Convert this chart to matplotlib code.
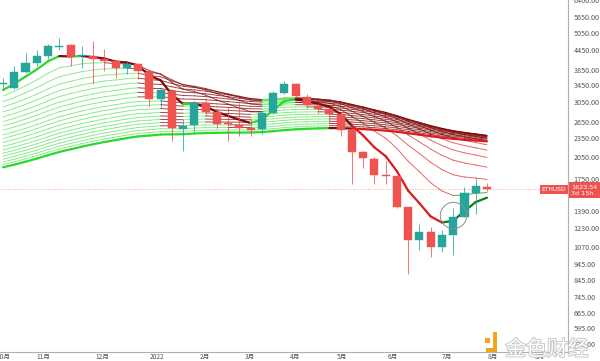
import numpy as np
import matplotlib.pyplot as plt
from matplotlib.collections import LineCollection
from matplotlib.patches import Rectangle
from matplotlib.ticker import NullLocator
from matplotlib import patheffects

plt.rcParams['font.family'] = ['Noto Sans CJK SC', 'DejaVu Sans']

# weekly ETHUSD candles, week of 2021-10-04 .. week of 2022-08-01
opens = [3481, 3382, 3795, 4050, 4259, 4560, 4610, 4259, 4259, 4168,
         4108, 3906, 4021, 3795, 3125, 3310, 2517, 2590, 3036, 2845,
         2625, 2590, 2535, 2517, 2825, 3262, 3481, 3170, 2971, 2908,
         2805, 2499, 2133, 2027, 1806, 1793, 1424, 1122, 1189, 1066,
         1163, 1334, 1587, 1657]
highs = [3635, 3963, 4352, 4447, 4644, 4853, 4640, 4577, 4746, 4479,
         4130, 4108, 4050, 3830, 3382, 3358, 2705, 3080, 3147, 2908,
         2950, 3036, 2725, 2888, 3310, 3557, 3504, 3240, 3036, 2950,
         2845, 2517, 2148, 2057, 1998, 1806, 1434, 1268, 1232, 1206,
         1414, 1657, 1768, 1705]
lows = [3358, 3358, 3760, 3963, 4168, 4447, 3963, 3906, 3481, 3823,
        3635, 3741, 3609, 2971, 2929, 2308, 2148, 2481, 2765, 2535,
        2308, 2393, 2393, 2428, 2805, 3240, 3147, 2929, 2825, 2620,
        2393, 1693, 1900, 1693, 1693, 1414, 878, 1043, 992, 1028,
        1006, 1325, 1354, 1610]
closes = [3504, 3795, 4050, 4259, 4577, 4580, 4229, 4290, 4168, 4108,
          3906, 4021, 3823, 3125, 3334, 2535, 2572, 3036, 2845, 2609,
          2610, 2535, 2499, 2825, 3262, 3481, 3193, 2993, 2908, 2805,
          2499, 2133, 2042, 1806, 1793, 1424, 1122, 1189, 1066, 1163,
          1325, 1576, 1669, 1623.54]

# Madrid MA ribbon: EMA 5..100, value of each line at the first visible week
ema_periods = list(range(5, 101, 5))
ema_start = [3334, 3193, 3066, 2950, 2845, 2745, 2653, 2572, 2493, 2410,
             2347, 2280, 2215, 2160, 2110, 2065, 2020, 1980, 1945, 1905]

last_price = 1623.54
last_label = '1623.54\n3d 15h'
circle_at = (40, 1344)

month_pos = [0, 3.55, 8.8, 13.7, 17.95, 21.95, 25.95, 30.1, 34.6, 39.4, 43.5, 47.7]
month_labels = ['10月', '11月', '12月', '2022', '2月', '3月', '4月', '5月',
                '6月', '7月', '8月', '9月']
price_ticks = [6400, 5650, 5050, 4450, 3850, 3450, 3050, 2650, 2350, 2050,
               1750, 1390, 1230, 1070, 945, 845, 745, 665, 595, 530]

UP = '#26a69a'
DOWN = '#ef5350'


def ema(values, period, start):
    alpha = 2.0 / (period + 1)
    out = [start]
    for v in values[1:]:
        out.append(out[-1] + alpha * (v - out[-1]))
    return np.array(out)


fig = plt.figure(figsize=(6.0, 3.61), dpi=100)
ax = fig.add_axes([0, 9 / 361, 568 / 600, 352 / 361])
ax.set_yscale('log')

x = np.arange(len(closes))
lines = [ema(closes, p, s) for p, s in zip(ema_periods, ema_start)]
ma05 = lines[0]
ma100 = lines[-1]

thick_col = {'lime': '#2bd92b', 'maroon': '#7d0a0a', 'red': '#d91c1c', 'green': '#137a13'}
thin_col = {'lime': (0.2, 0.85, 0.2, 0.55), 'maroon': (0.5, 0.04, 0.04, 0.75),
            'red': (0.88, 0.15, 0.15, 0.7), 'green': (0.1, 0.5, 0.1, 0.7)}

for k, vals in enumerate(lines):
    last = k == len(lines) - 1
    thick = k == 0 or last
    segs, cols = [], []
    for t in range(1, len(vals)):
        chg = vals[t] - vals[t - 1]
        # the MA100 line is coloured by where MA05 sits against it
        above = ma05[t] > ma100[t] if last else vals[t] > ma100[t]
        if chg >= 0 and above:
            state = 'lime'
        elif chg < 0 and above:
            state = 'maroon'
        elif chg <= 0:
            state = 'red'
        else:
            state = 'green'
        segs.append([(x[t - 1], vals[t - 1]), (x[t], vals[t])])
        cols.append(thick_col[state] if thick else thin_col[state])
    lc = LineCollection(segs, colors=cols, linewidths=1.6 if thick else 0.7,
                        zorder=3 if thick else 2, capstyle='round')
    ax.add_collection(lc)

# candles
for i in range(len(closes)):
    col = UP if closes[i] >= opens[i] else DOWN
    ax.vlines(x[i], lows[i], highs[i], color=col, lw=0.7, alpha=0.8, zorder=4)
    lo, hi = min(opens[i], closes[i]), max(opens[i], closes[i])
    if hi / lo < 1.004:
        lo, hi = lo / 1.002, hi * 1.002
    ax.add_patch(Rectangle((x[i] - 0.36, lo), 0.72, hi - lo, fc=col, ec=col,
                           lw=0.3, zorder=5))

ax.plot([circle_at[0]], [circle_at[1]], 'o', ms=19, mfc='none', mec='#8c8c8c',
        mew=0.7, zorder=6)

ax.axhline(last_price, color=DOWN, lw=0.6, ls=(0, (1, 2)), alpha=0.7, zorder=1)
ax.text(0.9965, last_price, 'ETHUSD', transform=ax.get_yaxis_transform(),
        ha='right', va='center', fontsize=4.3, color='white', family='DejaVu Sans',
        bbox=dict(boxstyle='square,pad=0.3', fc=DOWN, ec='none'), zorder=7)
ax.annotate(last_label, xy=(1, last_price), xycoords=('axes fraction', 'data'),
            xytext=(2.5, 3.5), textcoords='offset points', ha='left', va='top',
            fontsize=4.6, color='white', linespacing=1.25, family='DejaVu Sans',
            bbox=dict(boxstyle='square,pad=0.35', fc=DOWN, ec='none'),
            annotation_clip=False, zorder=8)

ax.set_xlim(-0.27, 50.2)
ax.set_ylim(500, 6337)

ax.yaxis.tick_right()
ax.set_yticks(price_ticks)
ax.set_yticklabels([f'{t:.2f}' for t in price_ticks])
ax.yaxis.set_minor_locator(NullLocator())
ax.set_xticks(month_pos)
ax.set_xticklabels(month_labels)
ax.tick_params(axis='y', length=0, pad=4, labelsize=5.2, labelcolor='#555555')
ax.tick_params(axis='x', length=0, pad=1.0, labelsize=4.8, labelcolor='#555555')

for side in ['top', 'left']:
    ax.spines[side].set_visible(False)
for side in ['right', 'bottom']:
    ax.spines[side].set_color('#b0b0b0')
    ax.spines[side].set_linewidth(0.8)

# watermark
fig.text(0.842, 0.032, '金色财经', fontsize=15, color='white', ha='left', va='center',
         path_effects=[patheffects.withStroke(linewidth=1.3, foreground='#c4c4c4')],
         zorder=10)
fig.patches.append(Rectangle((486 / 600, 1 - 352 / 361), 11 / 600, 4 / 361,
                             fc='#f2a51a', ec='none', transform=fig.transFigure))
fig.patches.append(Rectangle((493 / 600, 1 - 352 / 361), 4 / 600, 20 / 361,
                             fc='#f2a51a', ec='none', transform=fig.transFigure))
fig.patches.append(Rectangle((485 / 600, 1 - 343 / 361), 5 / 600, 5 / 361,
                             fc='#f2a51a', ec='none', transform=fig.transFigure))

fig.savefig('out.png', dpi=100)
